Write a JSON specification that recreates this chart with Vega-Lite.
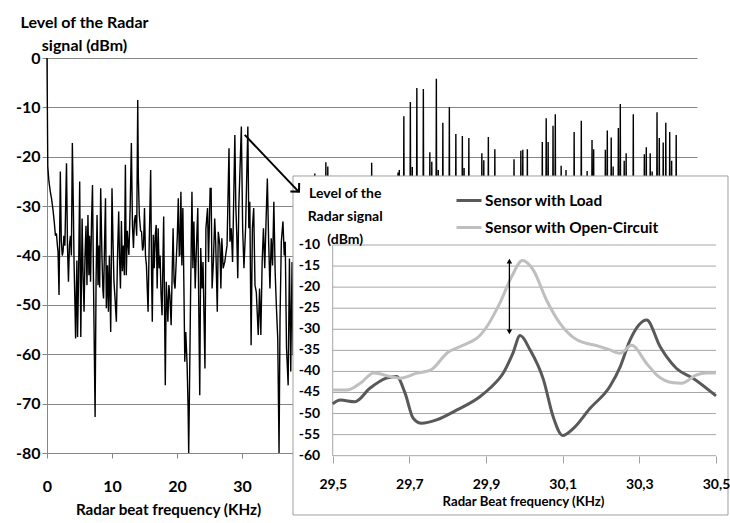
{
  "$schema": "https://vega.github.io/schema/vega-lite/v6.json",
  "width": 650,
  "height": 395,
  "autosize": {"type": "none"},
  "padding": {"left": 47, "top": 58, "right": 33, "bottom": 70},
  "background": "white",
  "config": {"view": {"stroke": null}, "font": "Lato"},
  "datasets": {
    "spec": [
      {"f":0,"d":0},{"f":0.12,"d":-22},{"f":0.3,"d":-25},{"f":0.5,"d":-27},{"f":0.7,"d":-28.5},{"f":0.93,"d":-30.8},{"f":1.1,"d":-33},{"f":1.3,"d":-36},{"f":1.45,"d":-35.5},{"f":1.6,"d":-38},{"f":1.7,"d":-39.2},{"f":1.85,"d":-48},{"f":2.05,"d":-23},{"f":2.2,"d":-37},{"f":2.35,"d":-40},{"f":2.47,"d":-39.2},{"f":2.6,"d":-36},{"f":2.75,"d":-38},{"f":3.0,"d":-21.3},{"f":3.15,"d":-38},{"f":3.3,"d":-45.3},{"f":3.45,"d":-38},{"f":3.6,"d":-36},{"f":3.75,"d":-40},{"f":3.9,"d":-17.2},{"f":4.05,"d":-30},{"f":4.16,"d":-41.3},{"f":4.3,"d":-50},{"f":4.4,"d":-56.8},{"f":4.5,"d":-48},{"f":4.6,"d":-41},{"f":4.7,"d":-56.5},{"f":4.85,"d":-45},{"f":5.03,"d":-25},{"f":5.2,"d":-56.5},{"f":5.3,"d":-45},{"f":5.4,"d":-32.5},{"f":5.55,"d":-44},{"f":5.7,"d":-51.4},{"f":5.85,"d":-40},{"f":6.0,"d":-34},{"f":6.15,"d":-46},{"f":6.3,"d":-31.8},{"f":6.45,"d":-44},{"f":6.55,"d":-36},{"f":6.7,"d":-45.3},{"f":6.85,"d":-33},{"f":7.0,"d":-25.7},{"f":7.15,"d":-45},{"f":7.4,"d":-72.7},{"f":7.55,"d":-45},{"f":7.7,"d":-31.8},{"f":7.85,"d":-46},{"f":8.0,"d":-38},{"f":8.1,"d":-46.5},{"f":8.26,"d":-26.4},{"f":8.45,"d":-40},{"f":8.6,"d":-47},{"f":8.7,"d":-48.7},{"f":8.85,"d":-38},{"f":9.0,"d":-28.4},{"f":9.13,"d":-50.7},{"f":9.3,"d":-42},{"f":9.45,"d":-51.4},{"f":9.6,"d":-40},
      {"f":9.8,"d":-55.5},{"f":10.0,"d":-26.4},{"f":10.15,"d":-37},{"f":10.3,"d":-45.3},{"f":10.5,"d":-49.4},{"f":10.67,"d":-53.4},{"f":10.85,"d":-40},{"f":11.03,"d":-31.1},{"f":11.15,"d":-40},{"f":11.3,"d":-46.7},{"f":11.45,"d":-33},{"f":11.6,"d":-43.2},{"f":11.75,"d":-38},{"f":11.9,"d":-44},{"f":12.06,"d":-21.6},{"f":12.2,"d":-44},{"f":12.35,"d":-35},{"f":12.6,"d":-39.9},{"f":12.8,"d":-30},{"f":12.98,"d":-17.2},{"f":13.15,"d":-34},{"f":13.3,"d":-38.5},{"f":13.45,"d":-33},{"f":13.6,"d":-31.8},{"f":13.8,"d":-36},{"f":13.96,"d":-8.5},{"f":14.05,"d":-24},{"f":14.2,"d":-31.8},{"f":14.4,"d":-35},{"f":14.55,"d":-35.2},{"f":14.7,"d":-39},{"f":14.85,"d":-38},{"f":15.0,"d":-30.4},{"f":15.15,"d":-40},{"f":15.3,"d":-42},{"f":15.55,"d":-51.4},{"f":15.7,"d":-39.2},{"f":15.95,"d":-22.7},{"f":16.1,"d":-45},{"f":16.2,"d":-53.4},{"f":16.35,"d":-35.8},{"f":16.5,"d":-42.6},{"f":16.65,"d":-36},{"f":16.8,"d":-33.8},{"f":16.95,"d":-46.7},{"f":17.1,"d":-34.5},{"f":17.25,"d":-42.6},{"f":17.4,"d":-40},{"f":17.55,"d":-48},{"f":17.7,"d":-52.1},{"f":17.95,"d":-32.1},{"f":18.2,"d":-66.3},{"f":18.35,"d":-45.3},{"f":18.5,"d":-50},{"f":18.6,"d":-53.4},{"f":18.75,"d":-46},{"f":18.9,"d":-48},{"f":19.1,"d":-54.1},{"f":19.25,"d":-44},{"f":19.4,"d":-34.5},{"f":19.55,"d":-45.3},{"f":19.7,"d":-46.7},{"f":19.85,"d":-42},{"f":20.05,"d":-36},{"f":20.2,"d":-28.4},{"f":20.35,"d":-40},{"f":20.45,"d":-39.9},{"f":20.6,"d":-27.1},{"f":20.75,"d":-42},{"f":20.9,"d":-30.4},{"f":21.05,"d":-45},{"f":21.2,"d":-61.5},{"f":21.35,"d":-55.5},{"f":21.55,"d":-62},{"f":21.7,"d":-70.3},{"f":21.8,"d":-80},{"f":21.9,"d":-69.6},{"f":22.1,"d":-46.7},{"f":22.3,"d":-27.1},{"f":22.45,"d":-42.6},{"f":22.6,"d":-33.1},{"f":22.8,"d":-46.7},{"f":22.95,"d":-40},{"f":23.2,"d":-30.4},{"f":23.35,"d":-50.7},{"f":23.5,"d":-68.3},{"f":23.65,"d":-38.5},{"f":23.85,"d":-46.7},{"f":24.0,"d":-41.3},{"f":24.3,"d":-62.9},{"f":24.45,"d":-34.5},{"f":24.7,"d":-30.4},{"f":24.85,"d":-41.3},{"f":25.1,"d":-26.4},{"f":25.25,"d":-26.4},{"f":25.4,"d":-46.7},{"f":25.6,"d":-41.3},{"f":25.8,"d":-32.5},{"f":25.95,"d":-37.2},{"f":26.2,"d":-51.4},{"f":26.35,"d":-35.2},{"f":26.6,"d":-37.9},{"f":26.75,"d":-46.7},{"f":26.9,"d":-36.5},{"f":27.1,"d":-42.6},{"f":27.35,"d":-41.3},{"f":27.7,"d":-37.9},{"f":28.0,"d":-18.3},{"f":28.15,"d":-37.2},{"f":28.35,"d":-34.5},{"f":28.55,"d":-41.3},{"f":28.9,"d":-15.6},{"f":29.05,"d":-30},{"f":29.2,"d":-36},{"f":29.35,"d":-44.6},{"f":29.5,"d":-30.5},{"f":29.9,"d":-13.9},{"f":30.1,"d":-34.5},{"f":30.3,"d":-42.6},{"f":30.55,"d":-34.5},{"f":30.9,"d":-13.9},{"f":31.05,"d":-34.5},{"f":31.2,"d":-29.1},{"f":31.4,"d":-58.2},{"f":31.6,"d":-34.5},{"f":31.8,"d":-30.4},{"f":32.0,"d":-46},{"f":32.2,"d":-47.4},{"f":32.5,"d":-56.1},{"f":32.7,"d":-46.7},{"f":32.9,"d":-56.1},{"f":33.1,"d":-41.3},{"f":33.3,"d":-34.5},{"f":33.5,"d":-42.6},{"f":33.7,"d":-33.1},{"f":33.9,"d":-24.4},{"f":34.1,"d":-37.2},{"f":34.3,"d":-46.7},{"f":34.5,"d":-36.5},{"f":34.7,"d":-42},{"f":34.9,"d":-29.1},{"f":35.1,"d":-43.3},{"f":35.3,"d":-50.7},{"f":35.5,"d":-56.8},{"f":35.7,"d":-80},{"f":35.85,"d":-52.8},{"f":36.05,"d":-37.2},{"f":36.3,"d":-33.1},{"f":36.5,"d":-40},{"f":36.65,"d":-37.2},{"f":36.85,"d":-58.8},{"f":37.1,"d":-66.3},{"f":37.3,"d":-40.6},{"f":37.5,"d":-63.5},{"f":37.7,"d":-41.3},{"f":37.85,"d":-60.2},
      {"f":38.0,"d":-45},{"f":38.5,"d":-52},{"f":39.2,"d":-44},{"f":40.0,"d":-48},{"f":40.6,"d":-41},{"f":41.13,"d":-45},{"f":41.2,"d":-23.4},{"f":41.27,"d":-47},{"f":42.0,"d":-42},{"f":42.83,"d":-44},{"f":42.9,"d":-21.1},{"f":42.97,"d":-43},{"f":43.05,"d":-40},{"f":43.13,"d":-41},{"f":43.2,"d":-22},{"f":43.27,"d":-46},{"f":44.5,"d":-50},{"f":46.0,"d":-44},{"f":48.0,"d":-49},{"f":49.88,"d":-43},{"f":49.95,"d":-21.2},{"f":50.02,"d":-46},{"f":51.5,"d":-48},{"f":53.0,"d":-42},{"f":53.93,"d":-44},{"f":54.0,"d":-23.2},{"f":54.07,"d":-41},{"f":54.13,"d":-40},{"f":54.2,"d":-22.7},{"f":54.27,"d":-43},{"f":54.83,"d":-41},{"f":54.9,"d":-11.8},{"f":54.97,"d":-44},{"f":55.5,"d":-40},{"f":55.83,"d":-42},{"f":55.9,"d":-8.9},{"f":55.97,"d":-40},{"f":56.13,"d":-41},{"f":56.2,"d":-22.1},{"f":56.27,"d":-43},{"f":56.83,"d":-40},{"f":56.9,"d":-6.1},{"f":56.97,"d":-42},{"f":57.5,"d":-45},{"f":57.83,"d":-41},{"f":57.9,"d":-6.3},{"f":57.97,"d":-40},{"f":58.4,"d":-46},{"f":58.83,"d":-40},{"f":58.9,"d":-19.1},{"f":58.97,"d":-39},{"f":59.13,"d":-40},{"f":59.2,"d":-21},{"f":59.27,"d":-44},{"f":59.83,"d":-41},{"f":59.9,"d":-4.2},{"f":59.97,"d":-43},{"f":60.13,"d":-40},{"f":60.2,"d":-22.7},{"f":60.27,"d":-45},{"f":60.83,"d":-40},{"f":60.9,"d":-13.1},{"f":60.97,"d":-44},{"f":61.4,"d":-47},{"f":61.83,"d":-41},{"f":61.9,"d":-10.0},{"f":61.97,"d":-43},{"f":62.4,"d":-46},{"f":62.83,"d":-42},{"f":62.9,"d":-15.4},{"f":62.97,"d":-41},{"f":63.4,"d":-47},{"f":63.83,"d":-40},{"f":63.9,"d":-15.8},{"f":63.97,"d":-41},{"f":64.1,"d":-40},{"f":64.17,"d":-22.3},{"f":64.24,"d":-44},{"f":64.83,"d":-41},{"f":64.9,"d":-16.2},{"f":64.97,"d":-45},{"f":65.9,"d":-48},{"f":66.83,"d":-41},{"f":66.9,"d":-19.3},{"f":66.97,"d":-40},{"f":67.13,"d":-39},{"f":67.2,"d":-20.7},{"f":67.27,"d":-43},{"f":67.83,"d":-40},{"f":67.9,"d":-16.0},{"f":67.97,"d":-44},{"f":68.83,"d":-41},{"f":68.9,"d":-18.5},{"f":68.97,"d":-45},{"f":70.3,"d":-49},{"f":71.78,"d":-42},{"f":71.85,"d":-20.5},{"f":71.92,"d":-44},{"f":72.83,"d":-41},{"f":72.9,"d":-18.8},{"f":72.97,"d":-40},{"f":73.13,"d":-39},{"f":73.2,"d":-18.6},{"f":73.27,"d":-42},{"f":73.83,"d":-40},{"f":73.9,"d":-18.5},{"f":73.97,"d":-44},{"f":75.0,"d":-48},{"f":76.13,"d":-42},{"f":76.2,"d":-17},{"f":76.27,"d":-40},{"f":76.73,"d":-41},{"f":76.8,"d":-12.2},{"f":76.87,"d":-40},{"f":77.03,"d":-39},{"f":77.1,"d":-17},{"f":77.17,"d":-43},{"f":77.78,"d":-41},{"f":77.85,"d":-13.7},{"f":77.92,"d":-40},{"f":78.13,"d":-39},{"f":78.2,"d":-11.4},{"f":78.27,"d":-44},{"f":79.03,"d":-42},{"f":79.1,"d":-21.8},{"f":79.17,"d":-45},{"f":79.78,"d":-42},{"f":79.85,"d":-22.7},{"f":79.92,"d":-46},{"f":81.03,"d":-41},{"f":81.1,"d":-15.0},{"f":81.17,"d":-44},{"f":82.13,"d":-40},{"f":82.2,"d":-12.7},{"f":82.27,"d":-43},{"f":83.03,"d":-42},{"f":83.1,"d":-22.9},{"f":83.17,"d":-44},{"f":83.78,"d":-40},{"f":83.85,"d":-16.6},{"f":83.92,"d":-40},{"f":84.03,"d":-39},{"f":84.1,"d":-18.5},{"f":84.17,"d":-45},{"f":85.0,"d":-48},{"f":85.83,"d":-41},{"f":85.9,"d":-18.6},{"f":85.97,"d":-40},{"f":86.13,"d":-39},{"f":86.2,"d":-14.7},{"f":86.27,"d":-42},{"f":86.73,"d":-41},{"f":86.8,"d":-16.1},{"f":86.87,"d":-40},{"f":87.03,"d":-40},{"f":87.1,"d":-22},{"f":87.17,"d":-42},{"f":87.83,"d":-40},{"f":87.9,"d":-14.2},{"f":87.97,"d":-39},{"f":88.13,"d":-40},{"f":88.2,"d":-9.3},{"f":88.27,"d":-42},{"f":88.73,"d":-41},{"f":88.8,"d":-20.8},{"f":88.87,"d":-40},{"f":89.03,"d":-40},{"f":89.1,"d":-19.3},{"f":89.17,"d":-44},{"f":90.13,"d":-41},{"f":90.2,"d":-11.4},{"f":90.27,"d":-45},{"f":91.0,"d":-48},{"f":91.83,"d":-42},{"f":91.9,"d":-19.5},{"f":91.97,"d":-40},{"f":92.13,"d":-40},{"f":92.2,"d":-18.1},{"f":92.27,"d":-42},{"f":92.73,"d":-41},{"f":92.8,"d":-19.3},{"f":92.87,"d":-40},{"f":93.03,"d":-41},{"f":93.1,"d":-23},{"f":93.17,"d":-43},{"f":93.78,"d":-40},{"f":93.85,"d":-11.0},{"f":93.92,"d":-39},{"f":94.13,"d":-40},{"f":94.2,"d":-16.2},{"f":94.27,"d":-42},{"f":94.73,"d":-41},{"f":94.8,"d":-17.1},{"f":94.87,"d":-40},{"f":95.13,"d":-39},{"f":95.2,"d":-13.1},{"f":95.27,"d":-41},{"f":95.73,"d":-40},{"f":95.8,"d":-15.0},{"f":95.87,"d":-39},{"f":96.03,"d":-40},{"f":96.1,"d":-20.8},{"f":96.17,"d":-43},{"f":96.73,"d":-41},{"f":96.8,"d":-15.6},{"f":96.87,"d":-44},{"f":98.0,"d":-48},{"f":100.0,"d":-46}
    ],
    "inset": [
      {"f":29.5,"d":-47.7,"s":"Sensor with Load"},{"f":29.52,"d":-46.8,"s":"Sensor with Load"},{"f":29.558,"d":-47.2,"s":"Sensor with Load"},{"f":29.597,"d":-44.0,"s":"Sensor with Load"},{"f":29.64,"d":-41.6,"s":"Sensor with Load"},{"f":29.667,"d":-41.2,"s":"Sensor with Load"},{"f":29.689,"d":-45.2,"s":"Sensor with Load"},{"f":29.71,"d":-51.1,"s":"Sensor with Load"},{"f":29.732,"d":-52.3,"s":"Sensor with Load"},{"f":29.771,"d":-51.5,"s":"Sensor with Load"},{"f":29.823,"d":-49.2,"s":"Sensor with Load"},{"f":29.884,"d":-46.0,"s":"Sensor with Load"},{"f":29.91,"d":-44.0,"s":"Sensor with Load"},{"f":29.945,"d":-40.4,"s":"Sensor with Load"},{"f":29.97,"d":-35.7,"s":"Sensor with Load"},{"f":29.989,"d":-31.5,"s":"Sensor with Load"},{"f":30.015,"d":-34.9,"s":"Sensor with Load"},{"f":30.05,"d":-42.0,"s":"Sensor with Load"},{"f":30.075,"d":-50.7,"s":"Sensor with Load"},{"f":30.1,"d":-55.2,"s":"Sensor with Load"},{"f":30.128,"d":-53.5,"s":"Sensor with Load"},{"f":30.171,"d":-48.8,"s":"Sensor with Load"},{"f":30.223,"d":-43.6,"s":"Sensor with Load"},{"f":30.25,"d":-38.9,"s":"Sensor with Load"},{"f":30.276,"d":-32.5,"s":"Sensor with Load"},{"f":30.319,"d":-27.8,"s":"Sensor with Load"},{"f":30.354,"d":-34.1,"s":"Sensor with Load"},{"f":30.371,"d":-36.5,"s":"Sensor with Load"},{"f":30.397,"d":-39.3,"s":"Sensor with Load"},{"f":30.44,"d":-41.6,"s":"Sensor with Load"},{"f":30.5,"d":-45.8,"s":"Sensor with Load"},
      {"f":29.5,"d":-44.4,"s":"Sensor with Open-Circuit"},{"f":29.537,"d":-44.4,"s":"Sensor with Open-Circuit"},{"f":29.572,"d":-42.8,"s":"Sensor with Open-Circuit"},{"f":29.607,"d":-40.4,"s":"Sensor with Open-Circuit"},{"f":29.65,"d":-41.2,"s":"Sensor with Open-Circuit"},{"f":29.676,"d":-41.6,"s":"Sensor with Open-Circuit"},{"f":29.72,"d":-40.4,"s":"Sensor with Open-Circuit"},{"f":29.755,"d":-39.7,"s":"Sensor with Open-Circuit"},{"f":29.8,"d":-35.5,"s":"Sensor with Open-Circuit"},{"f":29.84,"d":-33.8,"s":"Sensor with Open-Circuit"},{"f":29.884,"d":-31.5,"s":"Sensor with Open-Circuit"},{"f":29.902,"d":-29.4,"s":"Sensor with Open-Circuit"},{"f":29.936,"d":-23.8,"s":"Sensor with Open-Circuit"},{"f":29.967,"d":-17.5,"s":"Sensor with Open-Circuit"},{"f":29.995,"d":-13.7,"s":"Sensor with Open-Circuit"},{"f":30.023,"d":-15.9,"s":"Sensor with Open-Circuit"},{"f":30.058,"d":-23.1,"s":"Sensor with Open-Circuit"},{"f":30.093,"d":-28.6,"s":"Sensor with Open-Circuit"},{"f":30.137,"d":-32.5,"s":"Sensor with Open-Circuit"},{"f":30.197,"d":-34.1,"s":"Sensor with Open-Circuit"},{"f":30.223,"d":-34.9,"s":"Sensor with Open-Circuit"},{"f":30.25,"d":-35.7,"s":"Sensor with Open-Circuit"},{"f":30.28,"d":-33.8,"s":"Sensor with Open-Circuit"},{"f":30.319,"d":-38.1,"s":"Sensor with Open-Circuit"},{"f":30.345,"d":-40.8,"s":"Sensor with Open-Circuit"},{"f":30.389,"d":-42.7,"s":"Sensor with Open-Circuit"},{"f":30.41,"d":-42.8,"s":"Sensor with Open-Circuit"},{"f":30.45,"d":-40.8,"s":"Sensor with Open-Circuit"},{"f":30.475,"d":-40.4,"s":"Sensor with Open-Circuit"},{"f":30.5,"d":-40.4,"s":"Sensor with Open-Circuit"}
    ],
    "grid": [{"v":-10},{"v":-15},{"v":-20},{"v":-25},{"v":-30},{"v":-35},{"v":-40},{"v":-45},{"v":-50},{"v":-55},{"v":-60}]
  },
  "layer": [
    {
      "data": {"name": "spec"},
      "mark": {"type": "line", "color": "black", "strokeWidth": 1.4},
      "encoding": {
        "x": {"field": "f", "type": "quantitative", "scale": {"domain": [0, 100], "nice": false, "zero": false},
          "axis": {"orient": "bottom", "values": [0,10,20,30], "grid": false, "domainColor": "#868686", "tickColor": "#868686", "tickSize": 5, "labelPadding": 20, "labelFont": "Lato", "labelFontSize": 16, "labelFontWeight": "bold", "labelColor": "black", "labelFlush": false, "labelOverlap": false,
            "title": "Radar beat frequency (KHz)", "titleFont": "Lato", "titleFontSize": 15.2, "titleFontWeight": "bold", "titleColor": "black", "titleX": 121, "titleY": 61, "titleAlign": "center", "titleBaseline": "alphabetic", "zindex": 0}},
        "y": {"field": "d", "type": "quantitative", "scale": {"domain": [-80, 0], "nice": false, "zero": false},
          "axis": {"orient": "left", "values": [0,-10,-20,-30,-40,-50,-60,-70,-80], "grid": true, "gridColor": "#868686", "domainColor": "#868686", "tickColor": "#868686", "tickSize": 5, "labelPadding": 2, "labelOverlap": false, "labelExpr": "datum.value + ''", "labelFont": "Lato", "labelFontSize": 16, "labelFontWeight": "bold", "labelColor": "black",
            "title": ["Level of the Radar", "signal (dBm)"], "titleAngle": 0, "titleX": 37, "titleY": -31, "titleAlign": "center", "titleBaseline": "alphabetic", "titleLineHeight": 23.5, "titleFont": "Lato", "titleFontSize": 16, "titleFontWeight": "bold", "titleColor": "black", "zindex": 0}}
      }
    },
    {
      "layer": [
        {
          "data": {"values": [{}]},
          "mark": {"type": "rect", "fill": "white", "stroke": "#a0a0a0", "strokeWidth": 1},
          "encoding": {
            "x": {"datum": 29.3964, "type": "quantitative", "scale": {"domain": [29.5, 30.5], "range": [285.7, 669], "nice": false, "zero": false},
              "axis": {"orient": "bottom", "offset": 3, "values": [29.5,29.7,29.9,30.1,30.3,30.5], "grid": false, "domain": false, "tickColor": "#a0a0a0", "tickSize": 7, "labelPadding": 14, "labelExpr": "replace(format(datum.value, '.1f'), '.', ',')", "labelFont": "Lato", "labelFontSize": 14, "labelFontWeight": "bold", "labelColor": "black", "labelFlush": false, "labelOverlap": false,
                "title": "Radar Beat frequency (KHz)", "titleFont": "Lato", "titleFontSize": 13.2, "titleFontWeight": "bold", "titleColor": "black", "titleX": 476, "titleY": 49, "titleAlign": "center", "titleBaseline": "alphabetic", "zindex": 1}},
            "x2": {"datum": 30.5313},
            "y": {"datum": 6.38, "type": "quantitative", "scale": {"domain": [-60, -10], "range": [397.7, 187], "nice": false, "zero": false},
              "axis": {"orient": "left", "offset": -285.7, "values": [-10], "grid": false, "domain": false, "ticks": false, "tickSize": 0, "labels": false,
                "title": ["Level of the", "Radar signal", "(dBm)"], "titleAngle": 0, "titleX": 12, "titleY": 139, "titleAlign": "center", "titleBaseline": "alphabetic", "titleLineHeight": 23, "titleFont": "Lato", "titleFontSize": 14, "titleFontWeight": "bold", "titleColor": "black", "zindex": 1}},
            "y2": {"datum": -74.07}
          }
        },
        {
          "data": {"name": "grid"},
          "mark": {"type": "rule", "color": "#a6a6a6", "strokeWidth": 1},
          "encoding": {
            "x": {"datum": 29.5, "type": "quantitative", "scale": {"domain": [29.5, 30.5], "range": [285.7, 669], "nice": false, "zero": false}},
            "x2": {"datum": 30.5},
            "y": {"field": "v", "type": "quantitative", "scale": {"domain": [-60, -10], "range": [397.7, 187], "nice": false, "zero": false}}
          }
        },
        {
          "data": {"name": "grid"},
          "mark": {"type": "text", "align": "right", "baseline": "middle", "dx": -12.5, "font": "Lato", "fontSize": 14, "fontWeight": "bold", "color": "black"},
          "encoding": {
            "x": {"datum": 29.5, "type": "quantitative", "scale": {"domain": [29.5, 30.5], "range": [285.7, 669], "nice": false, "zero": false}},
            "y": {"field": "v", "type": "quantitative", "scale": {"domain": [-60, -10], "range": [397.7, 187], "nice": false, "zero": false}},
            "text": {"field": "v", "type": "nominal"}
          }
        },
        {
          "data": {"values": [{}]},
          "mark": {"type": "rule", "color": "#a6a6a6", "strokeWidth": 1},
          "encoding": {
            "x": {"datum": 29.5, "type": "quantitative", "scale": {"domain": [29.5, 30.5], "range": [285.7, 669], "nice": false, "zero": false}},
            "y": {"datum": -10, "type": "quantitative", "scale": {"domain": [-60, -10], "range": [397.7, 187], "nice": false, "zero": false}},
            "y2": {"datum": -60}
          }
        },
        {
          "data": {"name": "inset"},
          "mark": {"type": "line", "strokeWidth": 3, "interpolate": "monotone"},
          "encoding": {
            "x": {"field": "f", "type": "quantitative", "scale": {"domain": [29.5, 30.5], "range": [285.7, 669], "nice": false, "zero": false}},
            "y": {"field": "d", "type": "quantitative", "scale": {"domain": [-60, -10], "range": [397.7, 187], "nice": false, "zero": false}},
            "color": {"field": "s", "type": "nominal",
              "scale": {"domain": ["Sensor with Load", "Sensor with Open-Circuit"], "range": ["#595959", "#bfbfbf"]},
              "legend": {"orient": "none", "legendX": 408, "legendY": 128.5, "title": null, "padding": 0, "symbolType": "stroke", "symbolStrokeWidth": 3, "symbolSize": 625, "labelFont": "Lato", "labelFontSize": 15.4, "labelFontWeight": "bold", "labelColor": "black", "labelOffset": 2, "labelLimit": 400, "rowPadding": 4}}
          }
        },
        {
          "data": {"values": [{}]},
          "mark": {"type": "rule", "color": "black", "strokeWidth": 1.3},
          "encoding": {
            "x": {"datum": 29.961, "type": "quantitative", "scale": {"domain": [29.5, 30.5], "range": [285.7, 669], "nice": false, "zero": false}},
            "y": {"datum": -13.7, "type": "quantitative", "scale": {"domain": [-60, -10], "range": [397.7, 187], "nice": false, "zero": false}},
            "y2": {"datum": -30.7}
          }
        },
        {
          "data": {"values": [{}]},
          "mark": {"type": "point", "shape": "triangle-up", "filled": true, "color": "black", "size": 30, "opacity": 1},
          "encoding": {
            "x": {"datum": 29.961, "type": "quantitative", "scale": {"domain": [29.5, 30.5], "range": [285.7, 669], "nice": false, "zero": false}},
            "y": {"datum": -13.8, "type": "quantitative", "scale": {"domain": [-60, -10], "range": [397.7, 187], "nice": false, "zero": false}}
          }
        },
        {
          "data": {"values": [{}]},
          "mark": {"type": "point", "shape": "triangle-down", "filled": true, "color": "black", "size": 30, "opacity": 1},
          "encoding": {
            "x": {"datum": 29.961, "type": "quantitative", "scale": {"domain": [29.5, 30.5], "range": [285.7, 669], "nice": false, "zero": false}},
            "y": {"datum": -30.6, "type": "quantitative", "scale": {"domain": [-60, -10], "range": [397.7, 187], "nice": false, "zero": false}}
          }
        }
      ]
    },
    {
      "layer": [
        {
          "data": {"values": [{}]},
          "mark": {"type": "rule", "color": "black", "strokeWidth": 2},
          "encoding": {
            "x": {"datum": 30.42, "type": "quantitative", "scale": {"domain": [0, 100], "nice": false, "zero": false}, "axis": null},
            "x2": {"datum": 38.6},
            "y": {"datum": -15.56, "type": "quantitative", "scale": {"domain": [-80, 0], "nice": false, "zero": false}, "axis": null},
            "y2": {"datum": -26.9}
          }
        },
        {
          "data": {"values": [{}]},
          "mark": {"type": "point", "shape": "M-1,-1L0,0L-1,1", "filled": false, "color": "black", "strokeWidth": 2, "size": 150, "angle": 46, "opacity": 1},
          "encoding": {
            "x": {"datum": 38.77, "type": "quantitative", "scale": {"domain": [0, 100], "nice": false, "zero": false}, "axis": null},
            "y": {"datum": -27.06, "type": "quantitative", "scale": {"domain": [-80, 0], "nice": false, "zero": false}, "axis": null}
          }
        }
      ]
    }
  ],
  "resolve": {"scale": {"x": "independent", "y": "independent"}, "axis": {"x": "independent", "y": "independent"}}
}
